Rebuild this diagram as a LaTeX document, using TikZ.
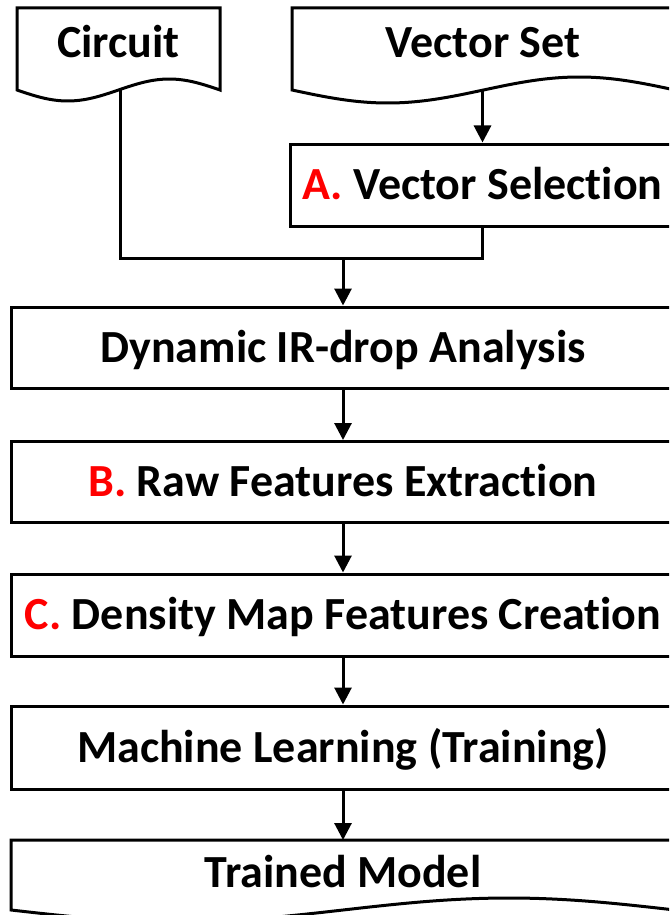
\documentclass[tikz,border=0pt]{standalone}
\usepackage{fontspec}
\setmainfont{Carlito}[Ligatures={NoCommon}]
\usetikzlibrary{arrows.meta}
\begin{document}
\begin{tikzpicture}[x=1pt,y=-1pt,line width=3pt,line join=miter,
  txt/.style={font=\fontsize{46}{50}\selectfont\bfseries,text height=29pt,text depth=0pt,inner sep=0pt,align=center},
  box/.style={txt,draw,rectangle,minimum width=664pt,minimum height=81pt},
  arr/.style={-{Triangle[length=17pt,width=17pt]}}]
\useasboundingbox (0,0) rectangle (669,915);
\clip (0,0) rectangle (669,915);
% document shapes
\draw (17,90) -- (17,8) -- (220,8) -- (220,90) -- plot[domain=1:0,samples=60,smooth] ({17+203*\x},{90+11*sin(360*\x)}) -- cycle;
\node[txt] (circ) at (118.5,43) {Circuit};
\coordinate (circbot) at (120,89.5);
\draw (292,90) -- (292,8) -- (675,8) -- (675,90) -- plot[domain=1:0,samples=60,smooth] ({292+383*\x},{90+13*sin(360*\x)}) -- cycle;
\node[txt] (vset) at (483,43) {Vector Set};
\coordinate (vsetbot) at (482.5,90);
\node[box,minimum width=385pt,minimum height=82pt] (vsel) at (482.5,185) {\textcolor{red}{A.} Vector Selection};
\node[box] (dyn) at (343,347.5) {Dynamic IR-drop Analysis};
\node[box] (raw) at (343,482) {\textcolor{red}{B.} Raw Features Extraction};
\node[box,minimum height=82pt] (dens) at (343,615) {\textcolor{red}{C.} Density Map Features Creation};
\node[box,minimum height=83pt] (ml) at (343,747.5) {Machine Learning (Training)};
\draw (11,910) -- (11,840) -- (675,840) -- (675,910) -- plot[domain=1:0,samples=80,smooth] ({11+664*\x},{910+12*sin(360*\x)}) -- cycle;
\node[txt] (tm) at (343,873) {Trained Model};
\coordinate (tmtop) at (343,840);
% connectors
\coordinate (join) at (343,258);
\draw[arr] (vsetbot) -- (vsel.north);
\draw (circbot) |- (join) -| (vsel.south);
\draw[arr] (join) -- (dyn.north);
\draw[arr] (dyn.south) -- (raw.north);
\draw[arr] (raw.south) -- (dens.north);
\draw[arr] (dens.south) -- (ml.north);
\draw[arr] (ml.south) -- (tmtop);
\end{tikzpicture}
\end{document}
